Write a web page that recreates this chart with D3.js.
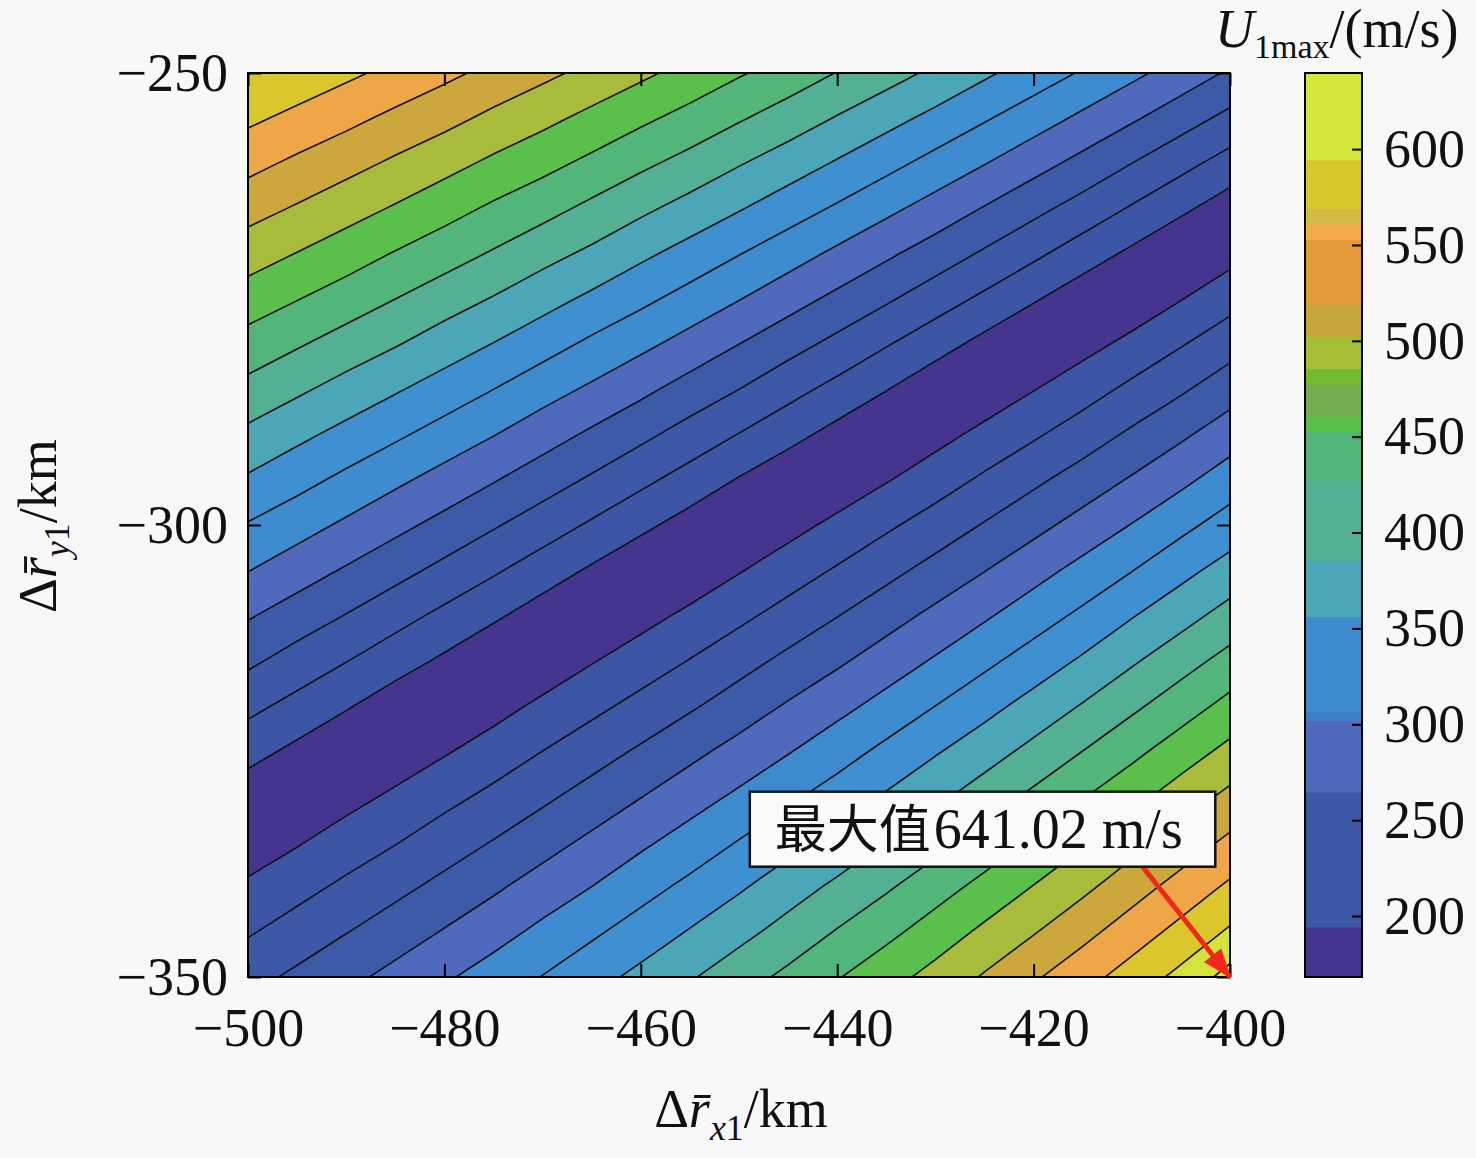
<!DOCTYPE html>
<html>
<head>
<meta charset="utf-8">
<script src="https://cdn.jsdelivr.net/npm/d3@7"></script>
<style>
    html, body { margin: 0; padding: 0; background: #f8f8f8; }
    svg { display: block; }
</style>
</head>
<body>
<div id="chart"></div>
<script>
// Grid of the contour data (5 km steps)
const xKm = [-500, -495, -490, -485, -480, -475, -470, -465, -460, -455, -450,
    -445, -440, -435, -430, -425, -420, -415, -410, -405, -400];
const yKm = [-250, -255, -260, -265, -270, -275, -280, -285, -290, -295, -300,
    -305, -310, -315, -320, -325, -330, -335, -340, -345, -350];

// U1max (m/s): one column per xKm value, each listed top (y = -250) to bottom (y = -350)
const uCols = [
    [597, 576, 549, 521, 494, 466, 438, 411, 383, 356, 328, 301, 273, 246, 218, 191, 163, 162, 185, 207, 230],
    [590, 562, 534, 507, 479, 451, 423, 395, 367, 340, 312, 284, 256, 228, 201, 173, 154, 177, 200, 223, 246],
    [576, 548, 520, 492, 464, 436, 407, 379, 351, 323, 295, 267, 239, 211, 183, 155, 170, 193, 216, 239, 262],
    [562, 533, 505, 477, 448, 420, 392, 363, 335, 306, 278, 250, 221, 193, 164, 162, 185, 208, 232, 255, 279],
    [547, 519, 490, 461, 433, 404, 375, 347, 318, 289, 261, 232, 203, 175, 154, 177, 201, 225, 248, 272, 296],
    [532, 503, 474, 445, 417, 388, 359, 330, 301, 272, 243, 214, 185, 156, 169, 193, 217, 241, 265, 289, 313],
    [517, 488, 459, 430, 400, 371, 342, 312, 283, 254, 225, 195, 166, 161, 186, 210, 234, 258, 283, 307, 331],
    [502, 472, 443, 413, 384, 354, 324, 295, 265, 236, 206, 176, 153, 178, 202, 227, 251, 276, 300, 325, 349],
    [486, 456, 426, 396, 366, 337, 307, 277, 247, 217, 187, 157, 170, 194, 219, 244, 269, 294, 319, 343, 368],
    [470, 440, 410, 379, 349, 319, 289, 258, 228, 198, 168, 161, 186, 211, 236, 262, 287, 312, 337, 362, 387],
    [453, 423, 392, 362, 331, 301, 270, 240, 209, 178, 153, 178, 203, 229, 254, 280, 305, 331, 356, 381, 407],
    [437, 406, 375, 344, 313, 282, 251, 220, 190, 159, 170, 195, 221, 247, 273, 298, 324, 350, 376, 401, 427],
    [419, 388, 357, 326, 294, 263, 232, 201, 170, 161, 187, 213, 239, 265, 291, 317, 343, 369, 396, 422, 448],
    [402, 370, 339, 307, 275, 244, 212, 181, 152, 178, 205, 231, 258, 284, 310, 337, 363, 390, 416, 442, 469],
    [384, 352, 320, 288, 256, 224, 192, 160, 170, 196, 223, 250, 277, 303, 330, 357, 383, 410, 437, 464, 490],
    [365, 333, 301, 268, 236, 204, 171, 161, 188, 215, 242, 269, 296, 323, 350, 377, 404, 431, 459, 486, 513],
    [346, 314, 281, 248, 216, 183, 151, 179, 206, 234, 261, 289, 316, 343, 371, 398, 426, 453, 481, 508, 536],
    [327, 294, 261, 228, 195, 162, 170, 197, 225, 253, 281, 309, 336, 364, 392, 420, 448, 476, 503, 531, 559],
    [307, 274, 240, 207, 174, 160, 188, 217, 245, 273, 301, 329, 358, 386, 414, 442, 470, 499, 527, 555, 583],
    [287, 253, 219, 186, 152, 179, 208, 236, 265, 293, 322, 351, 379, 408, 436, 465, 494, 522, 551, 579, 608],
    [266, 232, 198, 164, 170, 199, 228, 257, 286, 315, 343, 372, 401, 430, 459, 488, 517, 546, 575, 604, 641]
];

// Contour levels and the fill colour of each band (first one is below 180)
const levels = [180, 210, 240, 270, 300, 330, 360, 390, 420, 450, 480, 510, 540, 570, 600, 630];
const fillColors = ["#46358f", "#3d55a5", "#3d58a7", "#3c5aa8", "#4f69bc", "#3e8bd0", "#3f90d0",
    "#4ba7b8", "#53b094", "#52b57a", "#5bbf4b", "#a9bb3a", "#cba73c", "#eea646", "#dbc62c",
    "#d5e23b", "#d5e63b"];

// Colour bar segments as they appear in the picture
const cbEdges = [168.2, 194.3, 264.7, 302.2, 306.5, 356.1, 385.7, 427.4, 452.6, 460.8, 477.5,
    485.7, 502.6, 519.3, 552.7, 561.0, 569.2, 594.4, 639.7];
const cbColors = ["#46358f", "#3d58a6", "#4f69bc", "#3a80c4", "#3e8bd0", "#4ba7b8", "#53b094",
    "#51b57a", "#5bc04a", "#72ae4f", "#74ba2e", "#a6bd36", "#c7a63a", "#e49b38", "#f6ab48",
    "#d6b844", "#d9c62b", "#d5e63b"];

// Tick labels
const xTicks = [-500, -480, -460, -440, -420, -400];
const yTicks = [-350, -300, -250];
const cbTicks = [200, 250, 300, 350, 400, 450, 500, 550, 600];

// Maximum marker
const maxValue = 641.02;
const maxPoint = [-400, -350];

drawChart();

function drawChart() {
    const width = 1476, height = 1158;
    const plot = { left: 248, right: 1230, top: 73, bottom: 977 };
    const cbar = { left: 1305, right: 1362 };
    const serif = "Liberation Serif";
    const fontSize = 54;

    const svg = d3.select("#chart")
        .append("svg")
        .attr("width", width)
        .attr("height", height)
        .style("font-family", serif);

    svg.append("rect")
        .attr("width", width)
        .attr("height", height)
        .attr("fill", "#f8f8f8");

    // Scales
    const xScale = d3.scaleLinear()
        .domain(d3.extent(xKm))
        .range([plot.left, plot.right]);

    const yScale = d3.scaleLinear()
        .domain(d3.extent(yKm))
        .range([plot.bottom, plot.top]);

    const fillScale = d3.scaleThreshold()
        .domain(levels)
        .range(fillColors);

    // Clip everything to the plot box
    const defs = svg.append("defs");
    defs.append("clipPath")
        .attr("id", "plot-clip")
        .append("rect")
        .attr("x", plot.left)
        .attr("y", plot.top)
        .attr("width", plot.right - plot.left)
        .attr("height", plot.bottom - plot.top);

    // Row-major grid for d3.contours
    const values = [];
    yKm.forEach((y, j) => {
        xKm.forEach((x, i) => values.push(uCols[i][j]));
    });

    // Contours come back in grid coordinates -> screen through the scales
    const xStep = xKm[1] - xKm[0];
    const yStep = yKm[1] - yKm[0];
    const gridToScreen = d3.geoTransform({
        point: function(c, r) {
            this.stream.point(
                xScale(xKm[0] + (c - 0.5) * xStep),
                yScale(yKm[0] + (r - 0.5) * yStep)
            );
        }
    });
    const path = d3.geoPath(gridToScreen);

    const bands = d3.contours()
        .size([xKm.length, yKm.length])
        .thresholds([0].concat(levels))(values);

    const area = svg.append("g").attr("clip-path", "url(#plot-clip)");

    area.selectAll("path.band")
        .data(bands)
        .join("path")
        .attr("class", "band")
        .attr("d", path)
        .attr("fill", d => fillScale(d.value))
        .attr("stroke", d => fillScale(d.value))
        .attr("stroke-width", 0.5);

    area.selectAll("path.iso")
        .data(bands.filter(d => d.value > 0))
        .join("path")
        .attr("class", "iso")
        .attr("d", path)
        .attr("fill", "none")
        .attr("stroke", "#111")
        .attr("stroke-width", 1.6);

    // Axes, ticks pointing inwards
    const styleAxis = g => {
        g.select(".domain").remove();
        g.attr("font-size", fontSize).attr("font-family", serif);
        g.selectAll(".tick line").attr("stroke", "#000").attr("stroke-width", 2);
        g.selectAll(".tick text").attr("fill", "#111");
    };

    svg.append("g")
        .attr("transform", `translate(0,${plot.bottom})`)
        .call(d3.axisBottom(xScale).tickValues(xTicks).tickSize(-13).tickPadding(31))
        .call(styleAxis);

    svg.append("g")
        .attr("transform", `translate(0,${plot.top})`)
        .call(d3.axisTop(xScale).tickValues(xTicks).tickSize(-13).tickFormat(""))
        .call(styleAxis);

    svg.append("g")
        .attr("transform", `translate(${plot.left},0)`)
        .call(d3.axisLeft(yScale).tickValues(yTicks).tickSize(-13).tickPadding(20))
        .call(styleAxis);

    svg.append("g")
        .attr("transform", `translate(${plot.right},0)`)
        .call(d3.axisRight(yScale).tickValues(yTicks).tickSize(-13).tickFormat(""))
        .call(styleAxis);

    svg.append("rect")
        .attr("x", plot.left)
        .attr("y", plot.top)
        .attr("width", plot.right - plot.left)
        .attr("height", plot.bottom - plot.top)
        .attr("fill", "none")
        .attr("stroke", "#000")
        .attr("stroke-width", 2);

    // Axis titles
    const xTitle = svg.append("text")
        .attr("x", 741)
        .attr("y", 1127)
        .attr("text-anchor", "middle")
        .attr("font-size", fontSize)
        .attr("fill", "#111");
    addRLabel(xTitle, "x");

    const yTitle = svg.append("text")
        .attr("transform", "translate(56,526) rotate(-90)")
        .attr("text-anchor", "middle")
        .attr("font-size", fontSize)
        .attr("fill", "#111");
    addRLabel(yTitle, "y");

    // Colour bar
    const cbScale = d3.scaleLinear()
        .domain([cbEdges[0], cbEdges[cbEdges.length - 1]])
        .range([plot.bottom, plot.top]);

    svg.selectAll("rect.cb")
        .data(cbColors)
        .join("rect")
        .attr("class", "cb")
        .attr("x", cbar.left)
        .attr("width", cbar.right - cbar.left)
        .attr("y", (d, i) => cbScale(cbEdges[i + 1]))
        .attr("height", (d, i) => cbScale(cbEdges[i]) - cbScale(cbEdges[i + 1]) + 0.5)
        .attr("fill", d => d);

    svg.append("g")
        .attr("transform", `translate(${cbar.right},0)`)
        .call(d3.axisRight(cbScale).tickValues(cbTicks).tickSize(-10).tickPadding(22))
        .call(styleAxis);

    svg.append("rect")
        .attr("x", cbar.left)
        .attr("y", plot.top)
        .attr("width", cbar.right - cbar.left)
        .attr("height", plot.bottom - plot.top)
        .attr("fill", "none")
        .attr("stroke", "#000")
        .attr("stroke-width", 2);

    // Colour bar title U1max/(m/s)
    const cbTitle = svg.append("text")
        .attr("x", 1215)
        .attr("y", 47)
        .attr("font-size", fontSize)
        .attr("fill", "#111");
    cbTitle.append("tspan").attr("font-style", "italic").text("U");
    cbTitle.append("tspan").attr("font-size", 34).attr("dy", 11).text("1max");
    cbTitle.append("tspan").attr("dy", -11).text("/(m/s)");

    // Annotation box and arrow to the maximum
    const boxX0 = xScale(-448.9), boxX1 = xScale(-401.5);
    const boxY0 = yScale(-329.5), boxY1 = yScale(-337.8);

    defs.append("marker")
        .attr("id", "arrow-head")
        .attr("markerUnits", "userSpaceOnUse")
        .attr("viewBox", "0 0 30 22")
        .attr("markerWidth", 30)
        .attr("markerHeight", 22)
        .attr("refX", 28)
        .attr("refY", 11)
        .attr("orient", "auto")
        .append("path")
        .attr("d", "M0,0 L30,11 L0,22 Z")
        .attr("fill", "#f0281c");

    svg.append("line")
        .attr("x1", xScale(-408.9))
        .attr("y1", yScale(-337.8))
        .attr("x2", xScale(maxPoint[0]))
        .attr("y2", yScale(maxPoint[1]))
        .attr("stroke", "#f0281c")
        .attr("stroke-width", 5)
        .attr("marker-end", "url(#arrow-head)");

    svg.append("rect")
        .attr("x", boxX0)
        .attr("y", boxY0)
        .attr("width", boxX1 - boxX0)
        .attr("height", boxY1 - boxY0)
        .attr("fill", "#fafafa")
        .attr("stroke", "#111")
        .attr("stroke-width", 2.5);

    // Chinese part and number part as separate texts so each keeps its font
    const noteCjk = svg.append("text")
        .attr("x", boxX0 + 25)
        .attr("y", boxY1 - 19)
        .attr("font-family", "Noto Sans CJK SC")
        .attr("font-size", 52)
        .attr("fill", "#111")
        .text("最大值");

    svg.append("text")
        .attr("x", boxX0 + 25 + noteCjk.node().getComputedTextLength() + 3)
        .attr("y", boxY1 - 19)
        .attr("font-family", serif)
        .attr("font-size", 56)
        .attr("fill", "#111")
        .text(`${maxValue.toFixed(2)} m/s`);
}

// Build the Δr̄ label with italic subscript axis letter
function addRLabel(text, axisLetter) {
    text.append("tspan").text("Δ");
    text.append("tspan")
        .attr("font-style", "italic")
        .text("r\u0304");
    text.append("tspan")
        .attr("font-style", "italic")
        .attr("font-size", 36)
        .attr("dy", 13)
        .text(axisLetter);
    text.append("tspan")
        .attr("font-size", 36)
        .text("1");
    text.append("tspan")
        .attr("dy", -13)
        .text("/km");
}
</script>
</body>
</html>
